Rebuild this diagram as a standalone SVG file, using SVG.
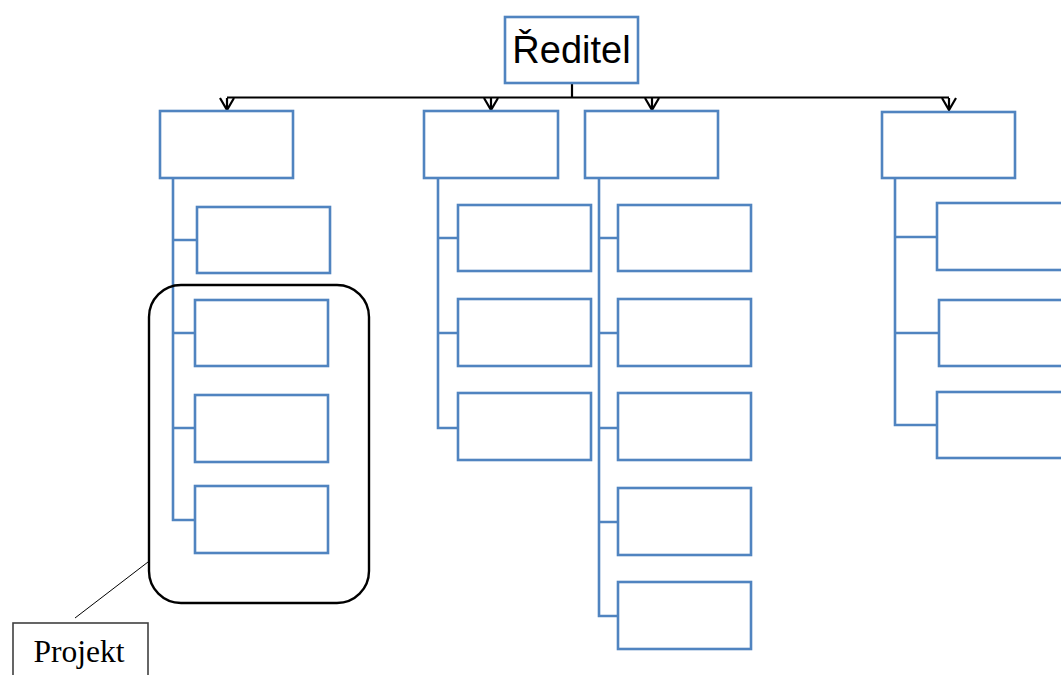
<svg xmlns="http://www.w3.org/2000/svg" width="1061" height="675" viewBox="0 0 1061 675">
<style>
.box{fill:#fff;stroke:#5084C0;stroke-width:2.6}
.tree{fill:none;stroke:#5084C0;stroke-width:2.6}
.blk{fill:none;stroke:#000;stroke-width:2.2}
.head{fill:none;stroke:#000;stroke-width:2.2}
</style>
<rect width="1061" height="675" fill="#fff"/>
<g id="connectors">
<path class="blk" d="M572,83 V97.5 M227,97.5 H949"/>
<path class="head" d="M220,98 L227,110 L234,98 M227,98 V110"/>
<path class="head" d="M484,98 L491,110 L498,98 M491,98 V110"/>
<path class="head" d="M645,98 L652,110 L659,98 M652,98 V110"/>
<path class="head" d="M942,98 L949,110 L956,98 M949,98 V110"/>
<path class="tree" d="M173,178 V520 H195 M173,240 H197 M173,333 H195 M173,428 H195"/>
<path class="tree" d="M438,178 V428 H458 M438,238 H458 M438,333 H458"/>
<path class="tree" d="M599,178 V616 H618 M599,238 H618 M599,333 H618 M599,428 H618 M599,522 H618"/>
<path class="tree" d="M895,178 V425 H937 M895,237 H937 M895,333 H939"/>
<path d="M148,562 L75,618" stroke="#000" stroke-width="1" fill="none"/>
</g>
<g id="reditel">
<rect class="box" x="505" y="17" width="133" height="66"/>
<text x="571.5" y="63" font-family="'Liberation Sans', Arial, sans-serif" font-size="38" text-anchor="middle" fill="#000">Ředitel</text>
</g>
<g id="l1-1"><rect class="box" x="160" y="111" width="133" height="67"/></g>
<g id="l1-2"><rect class="box" x="424" y="111" width="134" height="67"/></g>
<g id="l1-3"><rect class="box" x="585" y="111" width="133" height="67"/></g>
<g id="l1-4"><rect class="box" x="882" y="112" width="133" height="66"/></g>
<g id="c1-1"><rect class="box" x="197" y="207" width="133" height="66"/></g>
<g id="c1-2"><rect class="box" x="195" y="300" width="133" height="66"/></g>
<g id="c1-3"><rect class="box" x="195" y="395" width="133" height="67"/></g>
<g id="c1-4"><rect class="box" x="195" y="486" width="133" height="67"/></g>
<g id="c2-1"><rect class="box" x="458" y="205" width="133" height="66"/></g>
<g id="c2-2"><rect class="box" x="458" y="299" width="133" height="67"/></g>
<g id="c2-3"><rect class="box" x="458" y="393" width="133" height="67"/></g>
<g id="c3-1"><rect class="box" x="618" y="205" width="133" height="66"/></g>
<g id="c3-2"><rect class="box" x="618" y="299" width="133" height="67"/></g>
<g id="c3-3"><rect class="box" x="618" y="393" width="133" height="67"/></g>
<g id="c3-4"><rect class="box" x="618" y="488" width="133" height="67"/></g>
<g id="c3-5"><rect class="box" x="618" y="582" width="133" height="67"/></g>
<g id="c4-1"><rect class="box" x="937" y="203" width="133" height="67"/></g>
<g id="c4-2"><rect class="box" x="939" y="300" width="133" height="66"/></g>
<g id="c4-3"><rect class="box" x="937" y="392" width="133" height="66"/></g>
<g id="projekt-group"><rect x="149" y="285" width="220" height="318" rx="32" ry="32" fill="none" stroke="#000" stroke-width="2.4"/></g>
<g id="projekt">
<rect x="13" y="623" width="135" height="60" fill="#fff" stroke="#404040" stroke-width="1.6"/>
<text x="79" y="662" font-family="'Liberation Serif', 'Times New Roman', serif" font-size="31.5" text-anchor="middle" fill="#000">Projekt</text>
</g>
</svg>
